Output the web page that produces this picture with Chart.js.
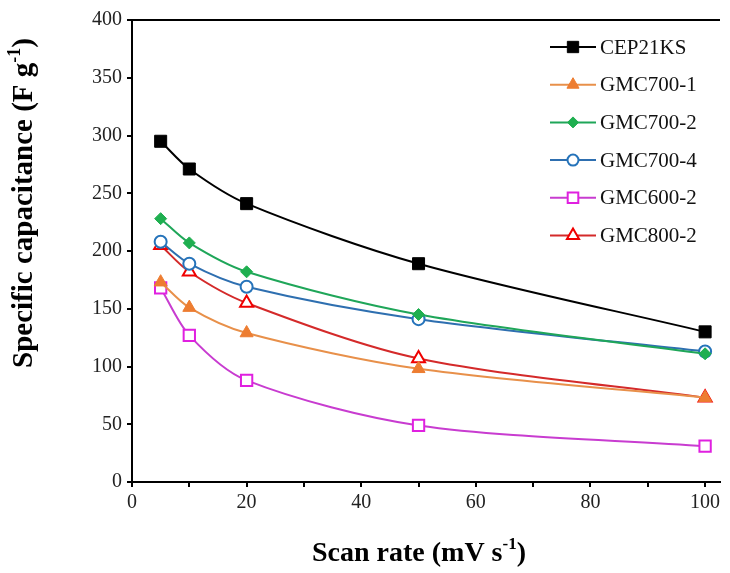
<!DOCTYPE html>
<html>
<head>
<meta charset="utf-8">
<script src="https://cdn.jsdelivr.net/npm/chart.js@4.4.0/dist/chart.umd.min.js"></script>
<style>
  html, body { margin: 0; padding: 0; background: #fff; }
  #wrap { width: 730px; height: 573px; }
</style>
</head>
<body>
<div id="wrap"><canvas id="chart" width="730" height="573"></canvas></div>
<script>
// scan rates (mV/s)
const scanRates = [5, 10, 20, 50, 100];
const xTicks = [0, 20, 40, 60, 80, 100];
const yTicks = [0, 50, 100, 150, 200, 250, 300, 350, 400];

// specific capacitance (F/g)
const cep21ks = [295, 271, 241, 189, 130];
const gmc700_1 = [173, 151, 129, 98, 73];
const gmc700_2 = [228, 207, 182, 145, 111];
const gmc700_4 = [208, 189, 169, 141, 113];
const gmc600_2 = [168, 127, 88, 49, 31];
const gmc800_2 = [205, 182, 155, 107, 73];

const FONT = '"Liberation Serif", "Times New Roman", serif';

function series(label, values, line, fill, stroke, style, radius, hollow) {
    return {
        label: label,
        data: values.map((v, i) => ({ x: scanRates[i], y: v })),
        borderColor: line,
        borderWidth: 2,
        pointStyle: style,
        pointRadius: radius,
        pointHoverRadius: radius,
        pointBackgroundColor: hollow ? '#ffffff' : fill,
        pointBorderColor: stroke,
        pointBorderWidth: hollow ? 2 : 1,
        tension: 0.3,
        fill: false
    };
}

const datasets = [
    series('CEP21KS', cep21ks, '#000000', '#000000', '#000000', 'rect', 8.5, false),
    series('GMC700-1', gmc700_1, '#E8904A', '#ED7D31', '#ED7D31', 'triangle', 7.5, false),
    series('GMC700-2', gmc700_2, '#1FA659', '#1FAF50', '#1FAF50', 'rectRot', 6, false),
    series('GMC700-4', gmc700_4, '#2E6FB0', '#ffffff', '#2573BA', 'circle', 6, true),
    series('GMC600-2', gmc600_2, '#C83CD0', '#ffffff', '#E020E0', 'rect', 8, true),
    series('GMC800-2', gmc800_2, '#D42A2A', '#ffffff', '#F00000', 'triangle', 7.5, true)
];

// legend with line + marker, drawn inside the plot
const legendPlugin = {
    id: 'lineLegend',
    afterDraw(chart) {
        const ctx = chart.ctx;
        ctx.save();
        datasets.forEach((ds, i) => {
            const y = 47 + i * 37.7;
            ctx.strokeStyle = ds.borderColor;
            ctx.lineWidth = 2;
            ctx.beginPath();
            ctx.moveTo(550, y);
            ctx.lineTo(596, y);
            ctx.stroke();
            ctx.fillStyle = ds.pointBackgroundColor;
            ctx.strokeStyle = ds.pointBorderColor;
            ctx.lineWidth = ds.pointBorderWidth;
            Chart.helpers.drawPoint(ctx, {
                pointStyle: ds.pointStyle,
                radius: ds.pointRadius - 0.5,
                rotation: 0,
                borderWidth: ds.pointBorderWidth
            }, 573, y);
            ctx.fillStyle = '#111';
            ctx.font = '21px ' + FONT;
            ctx.textAlign = 'left';
            ctx.textBaseline = 'middle';
            ctx.fillText(ds.label, 600, y + 1);
        });
        ctx.restore();
    }
};

// top frame line and axis titles with superscripts
const framePlugin = {
    id: 'frame',
    afterDraw(chart) {
        const ctx = chart.ctx;
        const a = chart.chartArea;
        ctx.save();
        ctx.strokeStyle = '#000';
        ctx.lineWidth = 2;
        ctx.beginPath();
        ctx.moveTo(a.left, a.top);
        ctx.lineTo(a.right, a.top);
        ctx.stroke();

        ctx.fillStyle = '#000';
        ctx.textBaseline = 'alphabetic';
        // x title
        const xBig = 'bold 28px ' + FONT;
        const xSup = 'bold 17px ' + FONT;
        drawParts(ctx, [['Scan rate (mV s', xBig, 0], ['-1', xSup, -12], [')', xBig, 0]], 419, 561);
        // y title
        const yBig = 'bold 29px ' + FONT;
        const ySup = 'bold 18px ' + FONT;
        ctx.translate(32, 203);
        ctx.rotate(-Math.PI / 2);
        drawParts(ctx, [['Specific capacitance (F g', yBig, 0], ['-1', ySup, -12], [')', yBig, 0]], 0, 0);
        ctx.restore();
    }
};

function drawParts(ctx, parts, cx, baseY) {
    let total = 0;
    parts.forEach(p => { ctx.font = p[1]; total += ctx.measureText(p[0]).width; });
    let x = cx - total / 2;
    ctx.textAlign = 'left';
    parts.forEach(p => {
        ctx.font = p[1];
        ctx.fillText(p[0], x, baseY + p[2]);
        x += ctx.measureText(p[0]).width;
    });
}

const ctx = document.getElementById('chart').getContext('2d');
new Chart(ctx, {
    type: 'line',
    data: { datasets: datasets },
    options: {
        responsive: false,
        animation: false,
        events: [],
        layout: { padding: { top: 20, right: 0, left: 0, bottom: 0 } },
        plugins: {
            legend: { display: false },
            tooltip: { enabled: false }
        },
        scales: {
            x: {
                type: 'linear',
                min: 0,
                max: 102.6,
                afterBuildTicks: (axis) => {
                    axis.ticks = [0, 10, 20, 30, 40, 50, 60, 70, 80, 90, 100].map(v => ({ value: v }));
                },
                afterFit: (axis) => { axis.height = 91; },
                ticks: {
                    autoSkip: false,
                    maxRotation: 0,
                    padding: 4,
                    color: '#222',
                    font: { family: FONT, size: 20 },
                    callback: (v) => (xTicks.includes(v) ? String(v) : '')
                },
                grid: {
                    drawOnChartArea: false,
                    drawTicks: true,
                    tickLength: 5,
                    color: '#000',
                    lineWidth: 2
                },
                border: { display: true, color: '#000', width: 2 }
            },
            y: {
                min: 0,
                max: 400,
                afterBuildTicks: (axis) => {
                    axis.ticks = yTicks.map(v => ({ value: v }));
                },
                afterFit: (axis) => { axis.width = 132; },
                ticks: {
                    padding: 5,
                    color: '#222',
                    font: { family: FONT, size: 20 }
                },
                grid: {
                    drawOnChartArea: false,
                    drawTicks: true,
                    tickLength: 5,
                    color: '#000',
                    lineWidth: 2
                },
                border: { display: true, color: '#000', width: 2 }
            }
        }
    },
    plugins: [legendPlugin, framePlugin]
});
</script>
</body>
</html>
